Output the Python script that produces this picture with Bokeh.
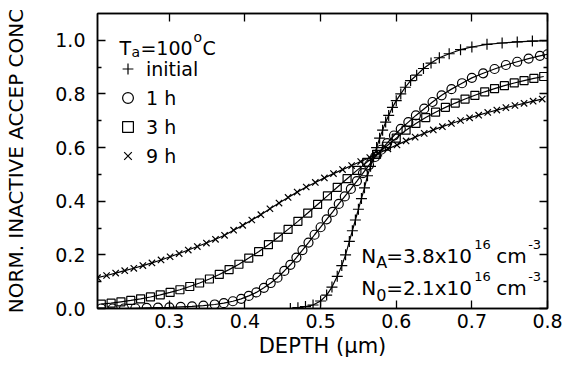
from bokeh.plotting import figure
from bokeh.models import (FixedTicker, LinearAxis, Legend, LegendItem, Label,
                          CustomJSTickFormatter, PrintfTickFormatter, Range1d)
from bokeh.embed import file_html
from bokeh.resources import INLINE

# ---------------- data ----------------
INIT_X = [0.46, 0.47, 0.48, 0.49, 0.50, 0.508, 0.515, 0.522, 0.528, 0.533,
          0.538, 0.542, 0.546, 0.550, 0.554, 0.558, 0.562, 0.566, 0.570, 0.574,
          0.578, 0.582, 0.586, 0.590, 0.595, 0.600, 0.606, 0.612, 0.619, 0.627,
          0.636, 0.646, 0.657, 0.670, 0.685, 0.700, 0.720, 0.740, 0.760, 0.780, 0.800]
INIT_Y = [0.0, 0.003, 0.007, 0.013, 0.028, 0.05, 0.08, 0.12, 0.16, 0.20,
          0.25, 0.29, 0.33, 0.37, 0.41, 0.45, 0.495, 0.53, 0.565, 0.60,
          0.635, 0.665, 0.695, 0.72, 0.75, 0.775, 0.80, 0.825, 0.85, 0.87,
          0.895, 0.915, 0.935, 0.95, 0.965, 0.975, 0.985, 0.99, 0.994, 0.997, 0.999]

ONE_X = [0.21, 0.225, 0.24, 0.255, 0.27, 0.285, 0.30, 0.315, 0.33, 0.345,
         0.36, 0.372, 0.384, 0.395, 0.405, 0.415, 0.425, 0.434, 0.443, 0.452,
         0.46, 0.468, 0.476, 0.484, 0.492, 0.50, 0.508, 0.516, 0.524, 0.532,
         0.54, 0.548, 0.556, 0.564, 0.572, 0.58, 0.588, 0.597, 0.606, 0.616,
         0.626, 0.637, 0.648, 0.66, 0.673, 0.687, 0.70, 0.715, 0.73, 0.745,
         0.76, 0.775, 0.79, 0.80]
ONE_Y = [0.0, 0.0, 0.0, 0.001, 0.002, 0.003, 0.004, 0.006, 0.008, 0.011,
         0.015, 0.02, 0.027, 0.036, 0.047, 0.06, 0.077, 0.095, 0.115, 0.14,
         0.163, 0.19, 0.218, 0.246, 0.275, 0.303, 0.332, 0.36, 0.39, 0.418,
         0.446, 0.475, 0.505, 0.535, 0.565, 0.592, 0.617, 0.645, 0.67, 0.695,
         0.72, 0.745, 0.77, 0.795, 0.818, 0.84, 0.86, 0.877, 0.893, 0.908,
         0.92, 0.932, 0.942, 0.948]

THREE_X = [0.210, 0.223, 0.236, 0.249, 0.262, 0.275, 0.288, 0.301, 0.314, 0.327,
           0.340, 0.353, 0.366, 0.379, 0.392, 0.405, 0.418, 0.431, 0.444, 0.457,
           0.470, 0.483, 0.496, 0.509, 0.522, 0.535, 0.548, 0.561, 0.574, 0.587,
           0.600, 0.613, 0.626, 0.639, 0.652, 0.665, 0.678, 0.691, 0.704, 0.717,
           0.730, 0.743, 0.756, 0.769, 0.782, 0.795]
THREE_Y = [0.016, 0.02, 0.025, 0.03, 0.036, 0.043, 0.051, 0.06, 0.07, 0.082,
           0.095, 0.11, 0.127, 0.145, 0.165, 0.188, 0.212, 0.238, 0.266, 0.295,
           0.325, 0.356, 0.388, 0.42, 0.452, 0.484, 0.515, 0.545, 0.575, 0.605,
           0.635, 0.665, 0.69, 0.712, 0.732, 0.75, 0.766, 0.781, 0.795, 0.808,
           0.82, 0.831, 0.841, 0.85, 0.858, 0.865]

NINE_X = [0.205, 0.217, 0.229, 0.241, 0.253, 0.265, 0.277, 0.289, 0.301, 0.313,
          0.325, 0.337, 0.349, 0.361, 0.373, 0.385, 0.397, 0.409, 0.421, 0.433,
          0.445, 0.457, 0.469, 0.481, 0.493, 0.505, 0.517, 0.529, 0.541, 0.553,
          0.565, 0.577, 0.589, 0.601, 0.613, 0.625, 0.637, 0.649, 0.661, 0.673,
          0.685, 0.697, 0.709, 0.721, 0.733, 0.745, 0.757, 0.769, 0.781, 0.793]
NINE_Y = [0.115, 0.123, 0.132, 0.141, 0.15, 0.16, 0.17, 0.181, 0.193, 0.205,
          0.218, 0.231, 0.244, 0.258, 0.273, 0.292, 0.31, 0.33, 0.35, 0.372,
          0.393, 0.414, 0.434, 0.453, 0.47, 0.487, 0.503, 0.518, 0.533, 0.548,
          0.563, 0.579, 0.595, 0.61, 0.625, 0.639, 0.653, 0.666, 0.678, 0.69,
          0.701, 0.711, 0.721, 0.731, 0.74, 0.749, 0.757, 0.765, 0.773, 0.781]

SERIES_LABELS = ["initial", "1 h", "3 h", "9 h"]
X_TICKS = [0.3, 0.4, 0.5, 0.6, 0.7, 0.8]
Y_TICKS = [0.0, 0.2, 0.4, 0.6, 0.8, 1.0]
Y_MINOR = [0.1, 0.3, 0.5, 0.7, 0.9]

FONT = "DejaVu Sans"

p = figure(width=563, height=367, x_range=Range1d(0.205, 0.8), y_range=Range1d(0.0, 1.1),
           output_backend="svg", toolbar_location=None,
           min_border_left=97, min_border_right=16, min_border_top=13, min_border_bottom=59)
p.grid.visible = False
p.outline_line_color = "black"
p.outline_line_width = 1.5
p.background_fill_color = "white"
p.border_fill_color = "white"

def style_axis(ax, ticks, minor, show_labels):
    ax.ticker = FixedTicker(ticks=ticks, minor_ticks=minor)
    ax.major_tick_in = 8
    ax.major_tick_out = 0
    ax.minor_tick_in = 4
    ax.minor_tick_out = 0
    ax.major_tick_line_width = 1.3
    ax.minor_tick_line_width = 1.3
    ax.axis_line_width = 1.5
    ax.axis_line_color = "black"
    ax.major_tick_line_color = "black"
    ax.minor_tick_line_color = "black"
    if show_labels:
        ax.major_label_text_font = FONT
        ax.major_label_text_font_size = "19px"
        ax.major_label_text_color = "black"
        ax.formatter = PrintfTickFormatter(format="%.1f")
        ax.axis_label_text_font = FONT
        ax.axis_label_text_font_size = "21px"
        ax.axis_label_text_font_style = "normal"
        ax.axis_label_text_color = "black"
    else:
        ax.formatter = CustomJSTickFormatter(code="return ''")
        ax.major_label_standoff = 0

xa = p.xaxis[0]
ya = p.yaxis[0]
style_axis(xa, X_TICKS, [], True)
style_axis(ya, Y_TICKS, Y_MINOR, True)
xa.axis_label = "DEPTH (\u03bcm)"
ya.axis_label = "NORM. INACTIVE ACCEP CONC"
ya.axis_label_text_font_size = "20px"
xa.major_label_standoff = 5
xa.axis_label_standoff = 3
ya.major_label_standoff = 12
ya.axis_label_standoff = 24

top = LinearAxis()
style_axis(top, X_TICKS, [], False)
p.add_layout(top, "above")
right = LinearAxis()
style_axis(right, Y_TICKS, Y_MINOR, False)
p.add_layout(right, "right")

series = [(INIT_X, INIT_Y, "cross", 11), (ONE_X, ONE_Y, "circle", 9),
          (THREE_X, THREE_Y, "square", 8), (NINE_X, NINE_Y, "x", 9)]
renderers = []
for xs, ys, mk, sz in series:
    p.line(xs, ys, line_color="black", line_width=1.2)
    r = p.scatter(xs, ys, marker=mk, size=sz, line_color="black",
                  fill_color=None, line_width=1.2)
    renderers.append(r)

legend = Legend(items=[LegendItem(label=lab, renderers=[r])
                       for lab, r in zip(SERIES_LABELS, renderers)],
                location=(17, 138), padding=0, margin=0, spacing=0,
                glyph_width=27, glyph_height=29, label_height=29, label_standoff=5,
                border_line_color=None, background_fill_alpha=0,
                label_text_font=FONT, label_text_font_size="19px",
                label_text_color="black")
p.add_layout(legend)

def piece(x, y, text, dx, dy, size):
    p.add_layout(Label(x=x, y=y, text=text, x_offset=dx, y_offset=dy,
                       text_font=FONT, text_font_size=size, text_color="black",
                       text_align="left", text_baseline="alphabetic"))

# T_a = 100 oC
TX, TY = 0.234, 0.970
piece(TX, TY, "T", 0, 0, "19px")
piece(TX, TY, "a", 12, -4, "14px")
piece(TX, TY, "=100", 21, 0, "19px")
piece(TX, TY, "o", 74, 11, "14px")
piece(TX, TY, "C", 83, 0, "19px")

# N_A and N_0
NX = 0.5536
for ny, sub, val in [(0.197, "A", "=3.8x10"), (0.078, "0", "=2.1x10")]:
    piece(NX, ny, "N", 0, 0, "20px")
    piece(NX, ny, sub, 15, -7, "16px")
    piece(NX, ny, val, 25, 0, "20px")
    piece(NX, ny, "16", 113, 11, "13px")
    piece(NX, ny, "cm", 135, 0, "20px")
    piece(NX, ny, "-3", 167, 11, "13px")

open("out.html", "w").write(file_html(p, INLINE))
